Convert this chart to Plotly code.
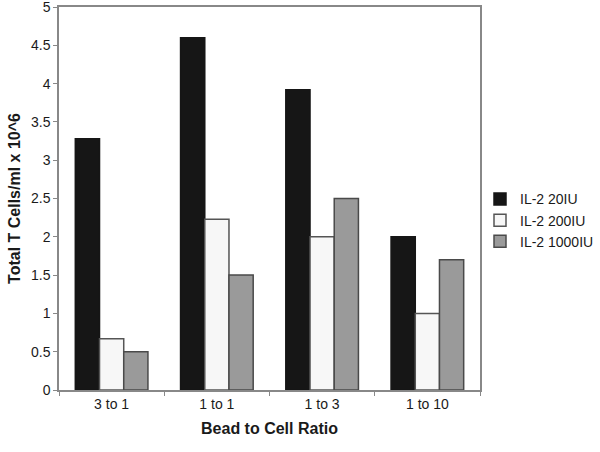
import plotly.graph_objects as go

ratios = ['3 to 1', '1 to 1', '1 to 3', '1 to 10']
il2_20 = [3.28, 4.6, 3.92, 2.0]
il2_200 = [0.67, 2.23, 2.0, 1.0]
il2_1000 = [0.5, 1.5, 2.5, 1.7]

series = [
    ('IL-2 20IU', il2_20, '#161616', '#161616'),
    ('IL-2 200IU', il2_200, '#f7f7f7', '#555555'),
    ('IL-2 1000IU', il2_1000, '#9a9a9a', '#4a4a4a'),
]

fig = go.Figure()
for nombre, valores, relleno, borde in series:
    fig.add_trace(go.Bar(x=ratios, y=valores, name=nombre,
                         marker=dict(color=relleno, line=dict(color=borde, width=1.5))))

fig.update_layout(
    width=600, height=452,
    barmode='group', bargap=0.31, bargroupgap=0,
    plot_bgcolor='white', paper_bgcolor='white',
    margin=dict(l=59, r=120, t=7, b=62, autoexpand=False),
    font=dict(family='Arial, Liberation Sans, sans-serif', size=14, color='#1a1a1a'),
    legend=dict(x=1.0, y=0.443, yanchor='middle', xanchor='left', bgcolor='rgba(0,0,0,0)',
                font=dict(size=14, color='#1a1a1a'), tracegroupgap=3),
)
fig.update_xaxes(showline=True, linecolor='#888', linewidth=1.5, mirror=True,
                 ticks='outside', tickson='boundaries', ticklen=4, tickcolor='#888',
                 title=dict(text='<b>Bead to Cell Ratio</b>', font=dict(size=16), standoff=12))
fig.update_yaxes(range=[0, 5], dtick=0.5, ticklabeloverflow='allow',
                 showline=True, linecolor='#888', linewidth=1.5,
                 mirror=True, showgrid=False, zeroline=False,
                 ticks='outside', ticklen=4, tickcolor='#888',
                 title=dict(text='<b>Total T Cells/ml x 10^6</b>', font=dict(size=16), standoff=6))

fig.write_html("out.html", config={'displayModeBar': False},
               post_script="document.body.style.margin='0';")
